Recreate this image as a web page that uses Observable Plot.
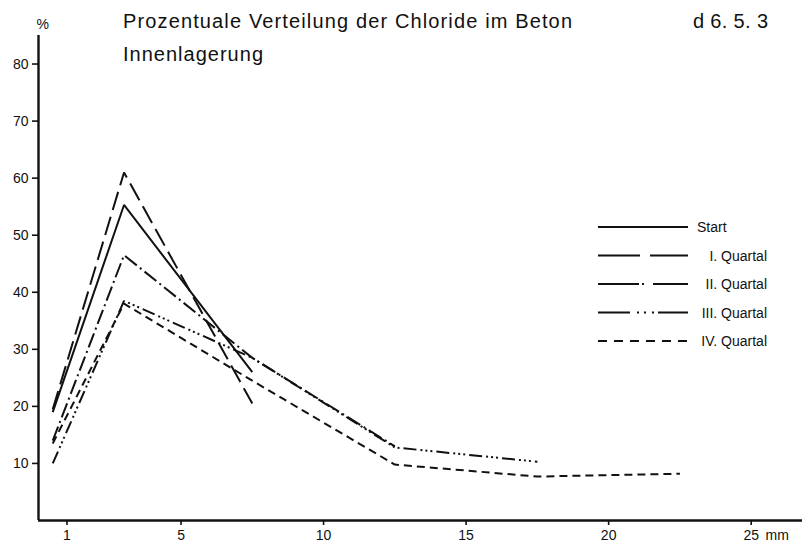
<!DOCTYPE html>
<html>
<head>
<meta charset="utf-8">
<script src="https://cdn.jsdelivr.net/npm/d3@7"></script>
<script src="https://cdn.jsdelivr.net/npm/@observablehq/plot@0.6"></script>
<style>
  html, body { margin: 0; padding: 0; background: #fff; }
  #wrap { position: relative; width: 802px; height: 546px; overflow: hidden; }
  #overlay { position: absolute; left: 0; top: 0; pointer-events: none; }
  text { font-family: "Liberation Sans", Arial, Helvetica, sans-serif; }
</style>
</head>
<body>
<div id="wrap"></div>
<script>
// ---- data ----
const depths = [0.5, 3, 7.5, 12.5, 17.5, 22.5];           // mm
const seriesNames = ["Start", "I. Quartal", "II. Quartal", "III. Quartal", "IV. Quartal"];
const startVals = [19, 55.3, 26];
const q1Vals    = [19.5, 61, 20.5];
const q2Vals    = [14, 46.5, 28.5, 13];
const q3Vals    = [10, 38.5, 28.5, 12.8, 10.3];
const q4Vals    = [13.5, 38, 24.5, 9.8, 7.7, 8.2];
const xTicks = [1, 5, 10, 15, 20, 25];
const yTicks = [10, 20, 30, 40, 50, 60, 70, 80];
const titleText = "Prozentuale Verteilung der Chloride im Beton";
const subtitleText = "Innenlagerung";
const codeText = "d 6. 5. 3";

const allVals = [startVals, q1Vals, q2Vals, q3Vals, q4Vals];
const chartDash = ["none", "19,7", "15,4,2,4", "13,4,2,3,2,3,2,4", "8,5"];
const legendDash = ["none", "42,10", "41,3,2,9", "32,7,2,5,2,6,2,4", "9,7"];

const rows = allVals.map((vals, i) =>
  vals.map((v, j) => ({series: seriesNames[i], depth: depths[j], value: v})));

const font = '"Liberation Sans", Arial, Helvetica, sans-serif';

const chart = Plot.plot({
  width: 802,
  height: 546,
  marginLeft: 38,
  marginRight: 0,
  marginTop: 35,
  marginBottom: 26,
  x: {domain: [0, 26.8]},
  y: {domain: [0, 85]},
  style: {fontFamily: font, fontSize: "14px", color: "#111", background: "#fff"},
  marks: [
    Plot.axisY({ticks: yTicks, tickSize: 6, tickPadding: 4, label: null, fontSize: 14, strokeWidth: 1.6}),
    Plot.axisX({ticks: xTicks, tickSize: 5, tickPadding: 5, label: null, fontSize: 14, strokeWidth: 1.6}),
    Plot.text([25], {x: d => d, frameAnchor: "bottom", dy: 19, dx: 26, text: () => "mm", fontSize: 14}),
    Plot.text(["%"], {frameAnchor: "top-left", dx: -2, dy: -16, text: d => d, fontSize: 14}),
    Plot.ruleX([0], {strokeWidth: 2.4, stroke: "#111"}),
    Plot.ruleY([0], {strokeWidth: 2.4, stroke: "#111"}),
    ...rows.map((r, i) => Plot.line(r, {
      x: "depth", y: "value", stroke: "#111", strokeWidth: 2,
      strokeDasharray: chartDash[i] === "none" ? undefined : chartDash[i],
      strokeLinejoin: "miter", strokeLinecap: "butt"
    }))
  ]
});

const wrap = document.getElementById("wrap");
wrap.appendChild(chart);

// ---- overlay: title, code, legend ----
const ns = "http://www.w3.org/2000/svg";
const ov = document.createElementNS(ns, "svg");
ov.setAttribute("id", "overlay");
ov.setAttribute("width", 802);
ov.setAttribute("height", 546);
wrap.appendChild(ov);

function txt(s, x, y, size, anchor, len) {
  const t = document.createElementNS(ns, "text");
  t.setAttribute("x", x); t.setAttribute("y", y);
  t.setAttribute("font-size", size);
  t.setAttribute("fill", "#111");
  if (anchor) t.setAttribute("text-anchor", anchor);
  if (len) { t.setAttribute("textLength", len); t.setAttribute("lengthAdjust", "spacing"); }
  t.textContent = s;
  ov.appendChild(t);
  return t;
}
txt(titleText, 123, 28, 20, null, 449);
txt(subtitleText, 123, 61, 20, null, 140);
txt(codeText, 693, 28, 20, null, 75);

const legY0 = 227, legStep = 28.5;
seriesNames.forEach((name, i) => {
  const y = legY0 + i * legStep;
  const l = document.createElementNS(ns, "line");
  l.setAttribute("x1", 598); l.setAttribute("x2", 688);
  l.setAttribute("y1", y); l.setAttribute("y2", y);
  l.setAttribute("stroke", "#111"); l.setAttribute("stroke-width", 2);
  if (legendDash[i] !== "none") l.setAttribute("stroke-dasharray", legendDash[i]);
  ov.appendChild(l);
  if (i === 0) txt(name, 697, y + 5, 14);
  else txt(name, 767, y + 5, 14, "end");
});
</script>
</body>
</html>
